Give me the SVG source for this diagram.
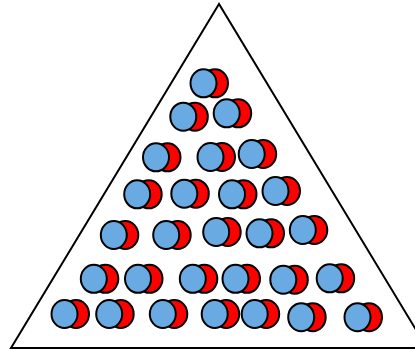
<svg xmlns="http://www.w3.org/2000/svg" xmlns:xlink="http://www.w3.org/1999/xlink" width="415" height="350" viewBox="0 0 415 350">
<style>
.tri{fill:#ffffff;stroke:#000000;stroke-width:2;stroke-linejoin:miter}
.r{fill:#ff0000;stroke:#000000;stroke-width:2}
.b{fill:#6aaae3;stroke:#000000;stroke-width:2}
</style>
<defs>
<g id="pair">
<ellipse class="r" cx="11.5" cy="0" rx="13" ry="14"/>
<ellipse class="b" cx="0" cy="0" rx="13" ry="14"/>
</g>
</defs>
<rect width="415" height="350" fill="#ffffff"/>
<polygon class="tri" points="219,4 11,348 427,348"/>
<g id="connectors"></g>
<g id="p1"><use xlink:href="#pair" x="203.5" y="83.3"/></g>
<g id="p2"><use xlink:href="#pair" x="183.3" y="116.7"/></g>
<g id="p3"><use xlink:href="#pair" x="226.7" y="113.3"/></g>
<g id="p4"><use xlink:href="#pair" x="156" y="157.3"/></g>
<g id="p5"><use xlink:href="#pair" x="210.5" y="157"/></g>
<g id="p6"><use xlink:href="#pair" x="251.7" y="154"/></g>
<g id="p7"><use xlink:href="#pair" x="137.2" y="194.3"/></g>
<g id="p8"><use xlink:href="#pair" x="184.3" y="193.7"/></g>
<g id="p9"><use xlink:href="#pair" x="232" y="194.3"/></g>
<g id="p10"><use xlink:href="#pair" x="275.5" y="191"/></g>
<g id="p11"><use xlink:href="#pair" x="113.8" y="235"/></g>
<g id="p12"><use xlink:href="#pair" x="166.2" y="235"/></g>
<g id="p13"><use xlink:href="#pair" x="216.2" y="232"/></g>
<g id="p14"><use xlink:href="#pair" x="259.5" y="233.3"/></g>
<g id="p15"><use xlink:href="#pair" x="302.8" y="230"/></g>
<g id="p16"><use xlink:href="#pair" x="93.8" y="278.8"/></g>
<g id="p17"><use xlink:href="#pair" x="138" y="278.8"/></g>
<g id="p18"><use xlink:href="#pair" x="192.8" y="278.8"/></g>
<g id="p19"><use xlink:href="#pair" x="235.5" y="278.8"/></g>
<g id="p20"><use xlink:href="#pair" x="283.3" y="279.7"/></g>
<g id="p21"><use xlink:href="#pair" x="329.7" y="278.3"/></g>
<g id="p22"><use xlink:href="#pair" x="64.5" y="314"/></g>
<g id="p23"><use xlink:href="#pair" x="109.2" y="314"/></g>
<g id="p24"><use xlink:href="#pair" x="162.8" y="314"/></g>
<g id="p25"><use xlink:href="#pair" x="214.7" y="314"/></g>
<g id="p26"><use xlink:href="#pair" x="254.7" y="314"/></g>
<g id="p27"><use xlink:href="#pair" x="301.2" y="317.2"/></g>
<g id="p28"><use xlink:href="#pair" x="357.5" y="317.2"/></g>
</svg>
